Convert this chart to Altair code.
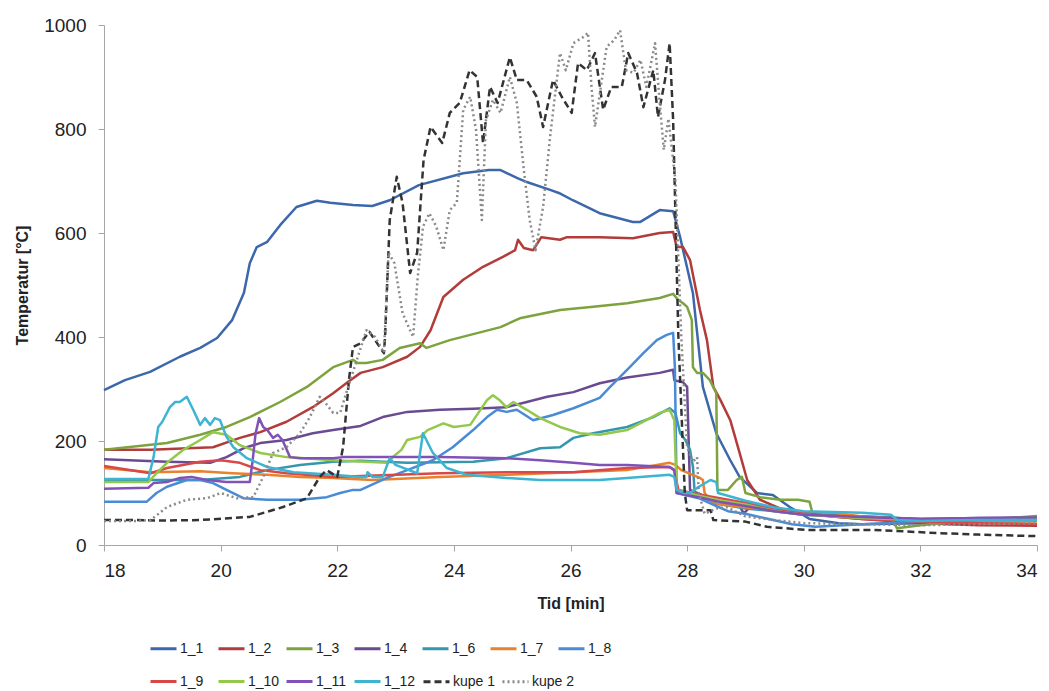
import altair as alt
import pandas as pd

sensor_names = ["1_1", "1_2", "1_3", "1_4", "1_6", "1_7", "1_8",
                "1_9", "1_10", "1_11", "1_12"]
sensor_colors = ["#3C68AB", "#B23C3A", "#7DA33F", "#6A4B92", "#3597AE", "#E8822F", "#4A8BD6",
                 "#D84848", "#93C84C", "#8052B6", "#3EB4D2"]
kupe_names = ["kupe 1", "kupe 2"]
kupe_colors = ["#333333", "#8A8A8A"]
kupe_dashes = [[7, 4], [2, 3]]

t_1_1 = [18.0, 18.36, 18.79, 19.3, 19.65, 19.94, 20.2, 20.4, 20.5, 20.62, 20.8, 21.02, 21.3, 21.65, 21.88,
         22.27, 22.6, 22.9, 23.4, 24.16, 24.6, 24.8, 25.08, 25.25, 25.65, 25.8, 26.04, 26.5, 27.07, 27.19,
         27.53, 27.76, 27.88, 28.1, 28.27, 28.5, 28.74, 28.9, 29.2, 29.47, 29.76, 30.1, 30.6, 31.0, 32.0,
         33.0, 34.0]
v_1_1 = [298, 317, 333, 362, 379, 398, 433, 485, 542, 573, 583, 615, 650, 662, 658,
         654, 652, 663, 692, 715, 721, 721, 706, 698, 683, 677, 663, 638, 621, 621,
         644, 642, 592, 484, 304, 215, 163, 131, 100, 96, 73, 50, 42, 40, 42,
         45, 47]

t_1_2 = [18.0, 18.8, 19.87, 20.33, 20.68, 21.13, 21.58, 21.93, 22.2, 22.4, 22.78, 23.2, 23.42, 23.6,
         23.82, 24.16, 24.5, 24.84, 25.05, 25.1, 25.2, 25.36, 25.5, 25.82, 25.94, 26.5, 27.07, 27.53,
         27.76, 27.82, 27.93, 28.05, 28.22, 28.34, 28.45, 28.57, 28.74, 28.9, 29.03, 29.25, 29.6, 30.0,
         30.5, 31.0, 32.0, 33.0, 34.0]
v_1_2 = [183, 183, 188, 206, 217, 237, 265, 292, 315, 331, 342, 362, 381, 413,
         477, 510, 535, 554, 567, 587, 571, 567, 592, 587, 592, 592, 590, 600,
         602, 573, 573, 548, 452, 394, 304, 279, 240, 177, 125, 87, 70, 60,
         55, 50, 42, 38, 37]

t_1_3 = [18.0, 19.08, 19.65, 20.1, 20.5, 21.02, 21.48, 21.93, 22.27, 22.35, 22.5, 22.78, 23.07, 23.42,
         23.53, 23.93, 24.8, 25.13, 25.82, 26.39, 26.97, 27.53, 27.76, 27.85, 27.93, 28.0, 28.08, 28.1,
         28.17, 28.27, 28.39, 28.5, 28.52, 28.7, 28.85, 28.94, 29.0, 29.25, 29.6, 29.9, 30.1, 30.15, 30.6,
         30.65, 31.5, 31.6, 32.0, 33.0, 34.0]
v_1_3 = [183, 196, 212, 227, 246, 275, 304, 342, 356, 350, 350, 356, 379, 388,
         379, 394, 419, 436, 452, 458, 465, 475, 483, 471, 465, 458, 433, 342,
         331, 331, 317, 292, 106, 106, 125, 131, 100, 92, 87, 87, 83, 61, 63,
         54, 54, 32, 38, 48, 56]

t_1_4 = [18.0, 19.08, 19.82, 20.1, 20.39, 20.68, 21.13, 21.58, 21.93, 22.4, 22.78, 23.2, 23.76, 24.33,
         24.9, 25.25, 25.6, 26.05, 26.5, 26.97, 27.53, 27.76, 27.78, 27.93, 28.0, 28.05, 28.5, 28.9,
         28.97, 29.1, 29.5, 30.0, 31.0, 32.0, 33.0, 34.0]
v_1_4 = [165, 160, 158, 169, 186, 196, 202, 215, 221, 229, 246, 256, 260, 262,
         265, 275, 285, 294, 311, 322, 331, 337, 317, 313, 304, 106, 85, 75,
         61, 75, 68, 60, 55, 50, 52, 52]

t_1_6 = [18.0, 18.8, 19.65, 20.33, 20.8, 21.36, 21.93, 22.4, 23.2, 24.33, 24.9, 25.48, 25.82, 26.05,
         26.39, 26.97, 27.42, 27.7, 27.8, 27.88, 27.97, 28.05, 28.1, 28.13, 28.5, 29.0, 29.5, 30.0,
         31.0, 32.0, 33.0, 34.0]
v_1_6 = [123, 125, 125, 131, 144, 154, 160, 162, 158, 160, 167, 186, 188, 206,
         215, 227, 246, 263, 254, 215, 202, 183, 150, 100, 80, 70, 65, 58,
         55, 50, 50, 50]

t_1_7 = [18.0, 18.8, 19.65, 20.2, 20.8, 21.36, 21.93, 22.6, 23.76, 24.9, 26.05, 26.97, 27.7, 27.8,
         27.9, 28.22, 28.27, 28.3, 28.45, 29.0, 29.5, 30.0, 30.5, 31.0, 32.0, 33.0, 34.0]
v_1_7 = [148, 140, 142, 138, 135, 131, 129, 125, 131, 135, 140, 144, 158, 154,
         144, 129, 125, 100, 80, 72, 68, 60, 62, 55, 48, 45, 45]

t_1_8 = [18.0, 18.73, 18.9, 19.08, 19.42, 19.65, 19.87, 20.1, 20.39, 20.8, 21.36, 21.82, 22.05, 22.27,
         22.4, 22.85, 23.2, 23.64, 23.98, 24.33, 24.57, 24.74, 24.9, 25.08, 25.36, 25.7, 26.05, 26.5,
         26.68, 26.97, 27.25, 27.48, 27.65, 27.76, 27.79, 27.82, 28.2, 28.5, 28.7, 29.0, 29.4, 29.8,
         30.2, 31.0, 32.0, 33.0, 34.0]
v_1_8 = [83, 83, 100, 112, 125, 125, 119, 106, 90, 87, 87, 92, 100, 106,
         106, 129, 144, 163, 188, 221, 246, 260, 256, 260, 240, 250, 263, 283,
         304, 337, 369, 394, 404, 408, 342, 100, 90, 75, 65, 60, 50, 40,
         35, 40, 45, 48, 50]

t_1_9 = [18.0, 18.8, 19.08, 19.65, 20.0, 20.33, 20.68, 21.13, 21.93, 23.76, 24.9, 26.05, 26.97, 27.7,
         27.78, 27.85, 28.3, 28.8, 29.3, 29.8, 30.5, 31.0, 32.0, 33.0, 34.0]
v_1_9 = [152, 138, 148, 160, 163, 158, 144, 138, 131, 138, 140, 140, 148, 150,
         144, 106, 95, 85, 75, 65, 55, 50, 45, 42, 40]

t_1_10 = [18.0, 18.76, 18.9, 19.08, 19.36, 19.65, 19.87, 20.1, 20.33, 20.68, 21.13, 21.93, 22.85,
          22.95, 23.1, 23.2, 23.42, 23.55, 23.82, 24.0, 24.28, 24.42, 24.57, 24.67, 24.78, 24.9, 25.02,
          25.25, 25.48, 25.82, 26.16, 26.5, 26.97, 27.3, 27.53, 27.7, 27.78, 27.82, 28.2, 28.6, 29.0,
          29.5, 30.0, 31.0, 32.0, 33.0, 34.0]
v_1_10 = [121, 121, 138, 158, 183, 202, 217, 212, 192, 177, 169, 163, 158,
          169, 183, 202, 208, 221, 234, 227, 231, 254, 279, 288, 279, 265, 275,
          260, 244, 227, 215, 212, 221, 240, 254, 260, 240, 106, 95, 85, 78,
          65, 58, 52, 48, 50, 52]

t_1_11 = [18.0, 18.76, 18.85, 19.08, 19.3, 19.5, 19.77, 20.1, 20.5, 20.55, 20.6, 20.66, 20.73, 20.8,
          20.9, 20.98, 21.06, 21.19, 21.36, 21.93, 22.1, 22.6, 23.76, 24.9, 25.48, 26.05, 26.5, 26.97,
          27.7, 27.78, 27.82, 28.2, 28.6, 29.0, 29.5, 30.0, 31.0, 32.0, 33.0, 34.0]
v_1_11 = [108, 110, 119, 121, 129, 131, 125, 121, 121, 163, 215, 244, 227, 221,
          206, 212, 202, 169, 167, 167, 169, 169, 169, 167, 163, 158, 154, 154,
          150, 144, 100, 92, 82, 75, 65, 58, 54, 50, 52, 53]

t_1_12 = [18.0, 18.76, 18.85, 18.93, 19.0, 19.13, 19.22, 19.3, 19.42, 19.53, 19.65, 19.73, 19.82, 19.9,
          19.99, 20.1, 20.22, 20.45, 20.8, 21.25, 21.93, 22.4, 22.5, 22.52, 22.6, 22.78, 22.9, 23.0,
          23.37, 23.47, 23.64, 23.88, 24.22, 24.9, 25.48, 26.5, 26.97, 27.7, 27.78, 27.82, 27.96, 28.05,
          28.2, 28.4, 28.5, 28.53, 29.0, 29.5, 30.0, 31.0, 31.5, 31.6, 32.0, 33.0, 34.0]
v_1_12 = [127, 127, 169, 227, 237, 265, 275, 275, 285, 260, 231, 244, 231, 244,
          240, 208, 188, 167, 150, 140, 135, 131, 131, 140, 131, 131, 167, 154,
          138, 215, 177, 148, 135, 129, 125, 125, 129, 135, 131, 106, 100, 100,
          112, 125, 121, 100, 85, 72, 65, 62, 58, 48, 46, 48, 48]

t_k1 = [18.0, 18.5, 19.0, 19.65, 20.5, 21.07, 21.48, 21.7, 21.82, 22.0, 22.1, 22.2, 22.27, 22.4, 22.55,
        22.8, 22.82, 22.9, 23.02, 23.12, 23.25, 23.37, 23.48, 23.6, 23.8, 23.93, 24.1, 24.27, 24.4, 24.5,
        24.62, 24.75, 24.96, 25.08, 25.25, 25.42, 25.53, 25.7, 25.85, 26.02, 26.13, 26.28, 26.42, 26.56,
        26.7, 26.88, 26.99, 27.14, 27.25, 27.42, 27.5, 27.62, 27.7, 27.76, 27.85, 27.96, 28.0, 28.4, 28.45,
        29.0, 29.37, 30.05, 31.2, 32.3, 33.0, 34.0]
v_k1 = [48, 48, 47, 48, 54, 73, 90, 131, 144, 131, 188, 317, 381, 388, 410,
        369, 400, 625, 708, 658, 523, 562, 740, 804, 773, 831, 850, 913, 900, 773,
        881, 850, 938, 894, 894, 862, 804, 894, 862, 831, 927, 913, 946, 837,
        881, 881, 946, 908, 842, 913, 823, 894, 965, 817, 400, 100, 67, 67, 48,
        45, 35, 29, 29, 23, 20, 17]

t_k2 = [18.0, 18.5, 18.8, 19.08, 19.42, 19.77, 20.0, 20.28, 20.56, 20.73, 20.9, 21.13, 21.36, 21.53,
        21.7, 21.8, 21.93, 22.05, 22.17, 22.5, 22.65, 22.8, 22.88, 22.98, 23.12, 23.3, 23.38, 23.47,
        23.58, 23.7, 23.82, 23.93, 24.05, 24.16, 24.28, 24.38, 24.48, 24.55, 24.67, 24.8, 24.96, 25.08,
        25.2, 25.3, 25.4, 25.53, 25.65, 25.82, 25.92, 26.05, 26.22, 26.3, 26.36, 26.42, 26.52, 26.62,
        26.75, 26.85, 26.95, 27.08, 27.2, 27.3, 27.45, 27.53, 27.6, 27.68, 27.8, 27.9, 28.0, 28.1, 28.17,
        28.2, 28.3, 28.5, 28.68, 29.0, 29.5, 30.0, 31.0, 32.0, 33.0, 34.0]
v_k2 = [46, 46, 48, 73, 87, 90, 100, 90, 92, 131, 177, 188, 215, 246,
        285, 273, 254, 254, 298, 413, 400, 370, 562, 542, 446, 400, 515, 612,
        638, 612, 567, 644, 658, 837, 862, 798, 625, 817, 856, 831, 900, 850,
        721, 625, 567, 650, 785, 946, 913, 965, 977, 985, 881, 804, 881, 958,
        971, 990, 913, 908, 933, 881, 965, 850, 760, 820, 700, 400, 188, 160, 169,
        100, 60, 70, 73, 55, 48, 42, 40, 38, 40, 42]

sensor_data = [
    ("1_1", t_1_1, v_1_1), ("1_2", t_1_2, v_1_2), ("1_3", t_1_3, v_1_3), ("1_4", t_1_4, v_1_4),
    ("1_6", t_1_6, v_1_6), ("1_7", t_1_7, v_1_7), ("1_8", t_1_8, v_1_8), ("1_9", t_1_9, v_1_9),
    ("1_10", t_1_10, v_1_10), ("1_11", t_1_11, v_1_11), ("1_12", t_1_12, v_1_12),
]
kupe_data = [("kupe 1", t_k1, v_k1), ("kupe 2", t_k2, v_k2)]


def to_frame(items, field):
    rows = []
    for name, ts, vs in items:
        for i, (t, v) in enumerate(zip(ts, vs)):
            rows.append({field: name, "tid": t, "temp": v, "i": i})
    return pd.DataFrame(rows)


df_s = to_frame(sensor_data, "serie")
df_k = to_frame(kupe_data, "kupe")

FONT = "Liberation Sans"

x_enc = alt.X("tid:Q", title="Tid [min]",
              scale=alt.Scale(domain=[18, 34], nice=False),
              axis=alt.Axis(values=[18, 20, 22, 24, 26, 28, 30, 32, 34], format="d"))
y_enc = alt.Y("temp:Q", title="Temperatur [°C]",
              scale=alt.Scale(domain=[0, 1000], nice=False),
              axis=alt.Axis(values=[0, 200, 400, 600, 800, 1000], format="d"))

legend_common = dict(orient="none", direction="horizontal", gridAlign="all",
                     symbolType="stroke", symbolSize=676, symbolStrokeWidth=3,
                     labelFont=FONT, labelFontSize=14, labelColor="#222222",
                     columnPadding=0, rowPadding=11, labelOffset=2, padding=0)

sensors = alt.Chart(df_s).mark_line(strokeWidth=2.5, strokeJoin="round").encode(
    x=x_enc, y=y_enc,
    color=alt.Color("serie:N", title=None,
                    scale=alt.Scale(domain=sensor_names, range=sensor_colors),
                    legend=alt.Legend(legendX=45, legendY=609, columns=7, **legend_common)),
    order=alt.Order("i:Q"),
)

kupe_symbol_color = alt.ExprRef("datum.value === 'kupe 1' ? '#333333' : '#8A8A8A'")

kupe = alt.Chart(df_k).mark_line(strokeWidth=2.5, strokeJoin="round").encode(
    x=x_enc, y=y_enc,
    color=alt.Color("kupe:N", title=None,
                    scale=alt.Scale(domain=kupe_names, range=kupe_colors),
                    legend=None),
    strokeDash=alt.StrokeDash("kupe:N", title=None,
                              scale=alt.Scale(domain=kupe_names, range=kupe_dashes),
                              legend=alt.Legend(legendX=318, legendY=642, columns=2,
                                                symbolStrokeColor=kupe_symbol_color,
                                                **legend_common)),
    order=alt.Order("i:Q"),
)

chart = alt.layer(sensors, kupe).resolve_scale(
    color="independent"
).properties(
    width=933, height=520,
    autosize=alt.AutoSizeParams(type="none"),
    padding={"left": 96, "top": 17, "right": 4, "bottom": 152},
).configure_view(
    stroke=None
).configure_axis(
    grid=False,
    domainColor="#A6A6A6",
    tickColor="#A6A6A6",
    tickSize=6,
    labelFont=FONT,
    labelFontSize=19,
    labelColor="#222222",
    titleFont=FONT,
    titleFontSize=16,
    titleFontWeight="bold",
    titleColor="#222222",
).configure_axisX(
    labelPadding=10,
    titlePadding=15,
).configure_axisY(
    labelPadding=12,
    titlePadding=13,
)

chart.save("out.html", embed_options={"renderer": "svg", "actions": False})
